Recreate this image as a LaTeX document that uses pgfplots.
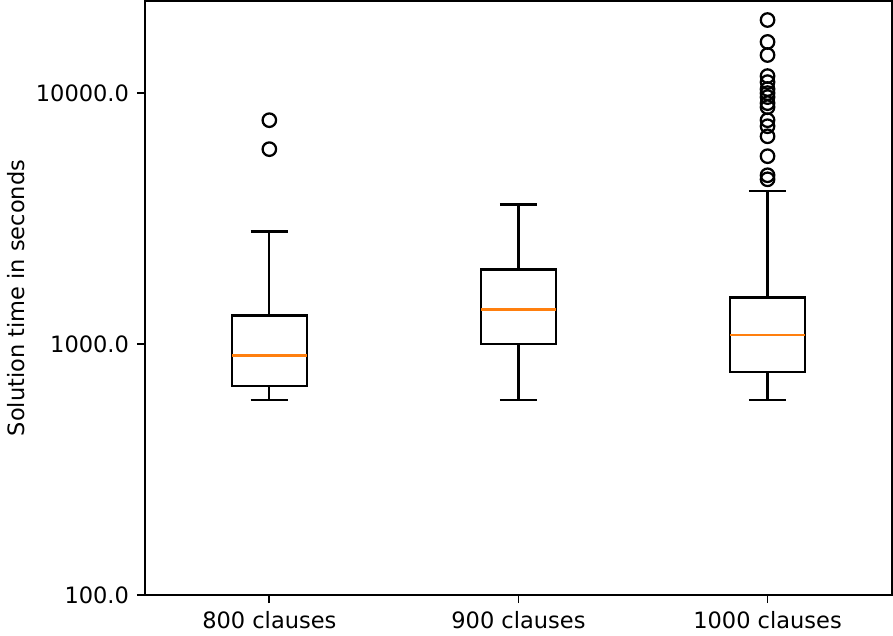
\documentclass[border=0pt]{standalone}
\usepackage{fontspec}
\setmainfont{DejaVu Sans}
\usepackage{pgfplots}
\pgfplotsset{compat=1.18}
\definecolor{medorange}{HTML}{FF7F0E}

\begin{document}
\begin{tikzpicture}
\begin{axis}[
  width=332pt, height=264pt, scale only axis,
  ymode=log, ymin=100, ymax=23300,
  xmin=0.5, xmax=3.5,
  xtick={1,2,3}, xticklabels={800 clauses,900 clauses,1000 clauses},
  ytick={100,1000,10000}, yticklabels={100.0,1000.0,10000.0},
  minor tick style={draw=none},
  tick align=outside, xtick pos=left, ytick pos=left,
  major tick length=3.5pt,
  tick style={line width=0.8pt, black},
  axis line style={line width=0.8pt},
  ylabel={Solution time in seconds},
  ylabel style={yshift=-2pt},
  every axis plot/.append style={line width=1pt},
]
% box 800 clauses: whiskers 600 / 2810, quartiles 683 / 1300, median 900
\addplot[black, mark=none] coordinates {(0.85,683) (1.15,683) (1.15,1300) (0.85,1300) (0.85,683)} --cycle;
\addplot[black, mark=none] coordinates {(1,683) (1,600)};
\addplot[black, mark=none] coordinates {(1,1300) (1,2810)};
\addplot[black, mark=none] coordinates {(0.925,600) (1.075,600)};
\addplot[black, mark=none] coordinates {(0.925,2810) (1.075,2810)};
\addplot[medorange, mark=none] coordinates {(0.85,900) (1.15,900)};
% box 900 clauses: whiskers 600 / 3600, quartiles 1000 / 1983, median 1374
\addplot[black, mark=none] coordinates {(1.85,1000) (2.15,1000) (2.15,1983) (1.85,1983) (1.85,1000)} --cycle;
\addplot[black, mark=none] coordinates {(2,1000) (2,600)};
\addplot[black, mark=none] coordinates {(2,1983) (2,3600)};
\addplot[black, mark=none] coordinates {(1.925,600) (2.075,600)};
\addplot[black, mark=none] coordinates {(1.925,3600) (2.075,3600)};
\addplot[medorange, mark=none] coordinates {(1.85,1374) (2.15,1374)};
% box 1000 clauses: whiskers 600 / 4060, quartiles 777 / 1534, median 1091
\addplot[black, mark=none] coordinates {(2.85,777) (3.15,777) (3.15,1534) (2.85,1534) (2.85,777)} --cycle;
\addplot[black, mark=none] coordinates {(3,777) (3,600)};
\addplot[black, mark=none] coordinates {(3,1534) (3,4060)};
\addplot[black, mark=none] coordinates {(2.925,600) (3.075,600)};
\addplot[black, mark=none] coordinates {(2.925,4060) (3.075,4060)};
\addplot[medorange, mark=none] coordinates {(2.85,1091) (3.15,1091)};
% outliers
\addplot[only marks, mark=o, mark size=3pt, mark options={line width=1pt, black}]
  coordinates {(1,7800) (1,5980)};
\addplot[only marks, mark=o, mark size=3pt, mark options={line width=1pt, black}]
  coordinates {(3,19550) (3,15990) (3,14180) (3,11690) (3,11060) (3,10380)
   (3,10000) (3,9640) (3,9120) (3,8790) (3,7800) (3,7380) (3,6730)
   (3,5606) (3,4707) (3,4535)};
\end{axis}
\end{tikzpicture}
\end{document}
